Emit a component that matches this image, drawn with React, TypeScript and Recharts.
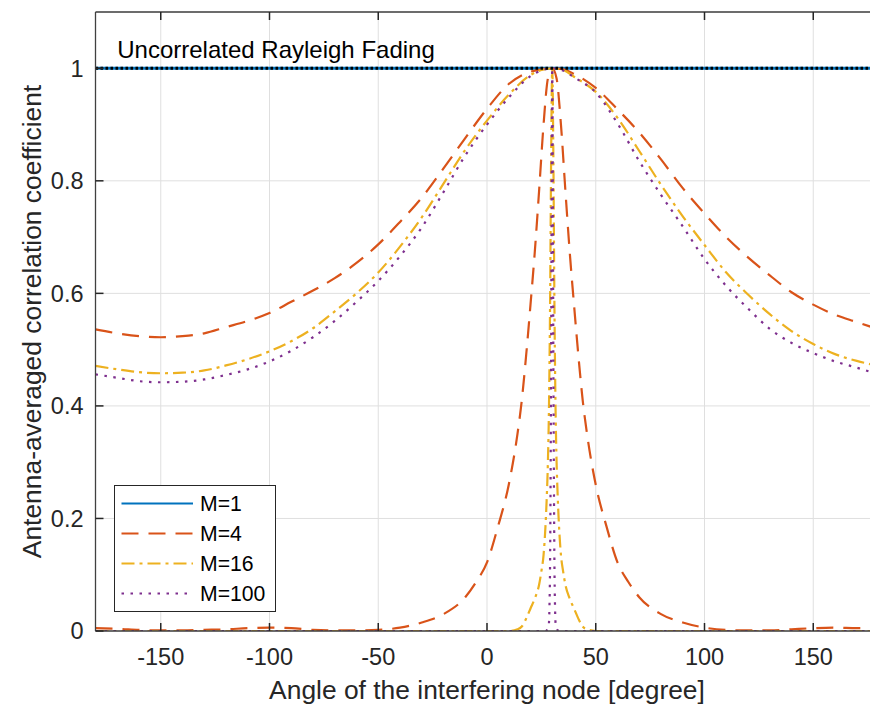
import React from 'react';
import {
  LineChart,
  Line,
  XAxis,
  YAxis,
  CartesianGrid,
  ReferenceLine,
  ReferenceDot,
  Legend,
} from 'recharts';

// ---------------- data ----------------
const xTicks = [-150, -100, -50, 0, 50, 100, 150];
const yTicks = [0, 0.2, 0.4, 0.6, 0.8, 1];
const yTickLabels = ['0', '0.2', '0.4', '0.6', '0.8', '1'];

const flatAngles = [-180, -90, 0, 90, 180];
const m1Values = [1, 1, 1, 1, 1];
const uncorrelatedValues = [1, 1, 1, 1, 1];

const broadAngles = [
  -180, -170, -160, -150, -140, -130, -120, -110, -100, -90, -80, -70, -60, -50,
  -40, -30, -20, -10, 0, 10, 20, 25, 30, 35, 40, 50, 60, 70, 80, 90, 100, 110,
  120, 130, 140, 150, 160, 170, 180,
];
const broadM4 = [
  0.536, 0.529, 0.524, 0.522, 0.524, 0.529, 0.54, 0.551, 0.565, 0.585, 0.605,
  0.627, 0.654, 0.687, 0.727, 0.77, 0.822, 0.876, 0.928, 0.972, 0.994, 0.998,
  1.0, 0.998, 0.99, 0.965, 0.927, 0.886, 0.838, 0.787, 0.742, 0.7, 0.664, 0.632,
  0.602, 0.58, 0.562, 0.549, 0.536,
];
const broadM16 = [
  0.471, 0.465, 0.46, 0.458, 0.459, 0.463, 0.472, 0.483, 0.497, 0.515, 0.538,
  0.568, 0.6, 0.637, 0.683, 0.735, 0.795, 0.855, 0.907, 0.953, 0.988, 0.997,
  1.0, 0.997, 0.985, 0.958, 0.912, 0.853, 0.793, 0.737, 0.686, 0.637, 0.598,
  0.563, 0.533, 0.51, 0.492, 0.48, 0.471,
];
const broadM100 = [
  0.456, 0.45, 0.444, 0.442, 0.443, 0.447, 0.455, 0.465, 0.479, 0.498, 0.522,
  0.551, 0.585, 0.622, 0.666, 0.717, 0.78, 0.845, 0.9, 0.948, 0.986, 0.996,
  1.0, 0.996, 0.984, 0.957, 0.902, 0.835, 0.775, 0.719, 0.661, 0.613, 0.573,
  0.537, 0.512, 0.494, 0.479, 0.468, 0.456,
];

const narrowM4Angles = [
  -180, -170, -160, -150, -140, -130, -120, -110, -100, -90, -80, -70, -60, -50,
  -40, -30, -20, -10, -5, 0, 5, 10, 14, 16, 18, 20, 22, 24, 26, 28, 30, 32, 34,
  36, 38, 40, 42, 44, 46, 50, 55, 60, 65, 70, 80, 90, 100, 110, 120, 130, 140,
  150, 160, 170, 180,
];
const narrowM4 = [
  0.005, 0.004, 0.002, 0.001, 0.001, 0.002, 0.003, 0.005, 0.006, 0.005, 0.002,
  0.001, 0.001, 0.002, 0.006, 0.015, 0.03, 0.06, 0.087, 0.122, 0.185, 0.26,
  0.35, 0.41, 0.49, 0.58, 0.675, 0.785, 0.9, 0.982, 1.0, 0.982, 0.9, 0.785,
  0.675, 0.58, 0.49, 0.41, 0.35, 0.26, 0.185, 0.122, 0.087, 0.06, 0.03, 0.015,
  0.006, 0.002, 0.001, 0.001, 0.003, 0.005, 0.006, 0.005, 0.005,
];

const narrowM16Angles = [
  -180, -90, 0, 10, 14, 16, 18, 20, 22, 24, 25, 26, 27, 27.5, 28, 28.5, 29,
  29.5, 30, 30.5, 31, 31.5, 32, 32.5, 33, 34, 35, 36, 38, 40, 42, 44, 46, 50,
  90, 180,
];
const narrowM16 = [
  0, 0, 0, 0, 0.003, 0.008, 0.022, 0.04, 0.058, 0.083, 0.106, 0.135, 0.195,
  0.24, 0.3, 0.4, 0.58, 0.85, 1.0, 0.85, 0.58, 0.4, 0.3, 0.24, 0.195, 0.135,
  0.106, 0.083, 0.058, 0.04, 0.022, 0.008, 0.003, 0, 0, 0,
];

const narrowM100Angles = [
  -180, -90, 0, 20, 27, 28, 28.4, 28.7, 29, 29.3, 29.5, 29.7, 30, 30.3, 30.5,
  30.7, 31, 31.3, 31.6, 32, 33, 40, 90, 180,
];
const narrowM100 = [
  0, 0, 0, 0, 0, 0.005, 0.01, 0.04, 0.12, 0.32, 0.5, 0.75, 1.0, 0.75, 0.5,
  0.32, 0.12, 0.04, 0.01, 0.005, 0, 0, 0, 0,
];

const legendNames = ['M=1', 'M=4', 'M=16', 'M=100'];
const xLabel = 'Angle of the interfering node [degree]';
const yLabel = 'Antenna-averaged correlation coefficient';
const annotation = 'Uncorrelated Rayleigh Fading';

// ---------------- styles ----------------
const FONT = '"Liberation Sans", Arial, Helvetica, sans-serif';
const TEXT_COLOR = '#262626';
const AXIS_COLOR = '#262626';
const GRID_COLOR = '#dfdfdf';

const STYLES = [
  { color: '#0072BD', dash: undefined as string | undefined },
  { color: '#D95319', dash: '17 10' },
  { color: '#EDB120', dash: '13 5 3 5' },
  { color: '#7E2F8E', dash: '2.5 6.5' },
];

const CHART_W = 890;
const CHART_H = 706;
const MARGIN = { top: 12, right: 11.5, bottom: 0, left: 15.5 };
const Y_AXIS_W = 80;
const X_AXIS_H = 75;
const PLOT_TOP = MARGIN.top;
const TICK_LEN = 8;
const X_TICK_GAP = 17;
const Y_TICK_GAP = 12;
const TICK_FONT = 23.5;
const LABEL_FONT = 26.4;
const LEGEND_FONT = 21.2;
const LINE_W = 2.2;

const zip = (xs: number[], ys: number[]) =>
  xs.map((x, i) => ({ angle: x, value: ys[i] }));

const XTick = (props: any) => {
  const { x, y, payload } = props;
  const axisY = y - X_TICK_GAP;
  return (
    <g>
      <line x1={x} x2={x} y1={axisY} y2={axisY - TICK_LEN} stroke={AXIS_COLOR} strokeWidth={1.5} />
      <line x1={x} x2={x} y1={PLOT_TOP} y2={PLOT_TOP + TICK_LEN} stroke={AXIS_COLOR} strokeWidth={1.5} />
      <text
        x={x}
        y={y}
        dy="0.71em"
        textAnchor="middle"
        fontSize={TICK_FONT}
        fontFamily={FONT}
        fill={TEXT_COLOR}
      >
        {String(payload.value)}
      </text>
    </g>
  );
};

const YTick = (props: any) => {
  const { x, y, payload } = props;
  const axisX = x + Y_TICK_GAP;
  const idx = yTicks.indexOf(payload.value);
  return (
    <g>
      <line x1={axisX} x2={axisX + TICK_LEN} y1={y} y2={y} stroke={AXIS_COLOR} strokeWidth={1.5} />
      <text
        x={x}
        y={y}
        dy="0.355em"
        textAnchor="end"
        fontSize={TICK_FONT}
        fontFamily={FONT}
        fill={TEXT_COLOR}
      >
        {idx >= 0 ? yTickLabels[idx] : String(payload.value)}
      </text>
    </g>
  );
};

const LegendBox = () => (
  <svg width={162} height={127} style={{ display: 'block' }}>
    <rect x={0.5} y={0.5} width={161} height={126} fill="#ffffff" stroke={AXIS_COLOR} strokeWidth={1} />
    {legendNames.map((name, i) => {
      const cy = 18.5 + i * 30;
      return (
        <g key={name}>
          <line
            x1={7.5}
            x2={79}
            y1={cy}
            y2={cy}
            stroke={STYLES[i].color}
            strokeWidth={LINE_W}
            strokeDasharray={STYLES[i].dash}
          />
          <text
            x={86}
            y={cy}
            dy="0.355em"
            fontSize={LEGEND_FONT}
            fontFamily={FONT}
            fill="#000000"
          >
            {name}
          </text>
        </g>
      );
    })}
  </svg>
);

const AnnotationShape = (props: any) => {
  const { cx, cy } = props;
  return (
    <text x={cx} y={cy} dy="0.355em" fontSize={24} fontFamily={FONT} fill="#000000">
      {annotation}
    </text>
  );
};

export default function App() {
  const lineCommon = {
    dataKey: 'value',
    dot: false,
    activeDot: false,
    isAnimationActive: false,
    type: 'monotone' as const,
    strokeWidth: LINE_W,
  };
  return (
    <div
      style={{
        position: 'absolute',
        left: 0,
        top: 0,
        width: 870,
        height: 706,
        overflow: 'hidden',
        background: '#ffffff',
      }}
    >
      <LineChart width={CHART_W} height={CHART_H} margin={MARGIN} style={{ fontFamily: FONT }}>
        <CartesianGrid stroke={GRID_COLOR} strokeWidth={1} />
        <XAxis
          dataKey="angle"
          type="number"
          domain={[-180, 180]}
          ticks={xTicks}
          interval={0}
          tickSize={0}
          tickMargin={X_TICK_GAP}
          tickLine={false}
          height={X_AXIS_H}
          axisLine={{ stroke: '#404040', strokeWidth: 1.3 }}
          tick={XTick}
          allowDataOverflow
          label={{
            value: xLabel,
            content: (p: any) => {
              const vb = p.viewBox || {};
              return (
                <text
                  x={vb.x + vb.width / 2}
                  y={vb.y + 68}
                  textAnchor="middle"
                  fontSize={LABEL_FONT}
                  fontFamily={FONT}
                  fill={TEXT_COLOR}
                >
                  {xLabel}
                </text>
              );
            },
          }}
        />
        <YAxis
          type="number"
          domain={[0, 1.1]}
          ticks={yTicks}
          interval={0}
          tickSize={0}
          tickMargin={Y_TICK_GAP}
          tickLine={false}
          width={Y_AXIS_W}
          axisLine={{ stroke: '#404040', strokeWidth: 1.3 }}
          tick={YTick}
          allowDataOverflow
          label={{
            value: yLabel,
            content: (p: any) => {
              const vb = p.viewBox || {};
              const cx = 41;
              const cy = vb.y + vb.height / 2;
              return (
                <text
                  x={cx}
                  y={cy}
                  transform={`rotate(-90, ${cx}, ${cy})`}
                  textAnchor="middle"
                  fontSize={LABEL_FONT}
                  fontFamily={FONT}
                  fill={TEXT_COLOR}
                >
                  {yLabel}
                </text>
              );
            },
          }}
        />
        <ReferenceLine y={1.1} stroke="#404040" strokeWidth={1.3} />
        <ReferenceLine x={180} stroke="#404040" strokeWidth={1.3} />

        <Line {...lineCommon} name="M=1" data={zip(flatAngles, m1Values)} stroke={STYLES[0].color} strokeWidth={2.8} />
        <Line {...lineCommon} name="M=4" data={zip(broadAngles, broadM4)} stroke={STYLES[1].color} strokeDasharray={STYLES[1].dash} />
        <Line {...lineCommon} name="M=16" data={zip(broadAngles, broadM16)} stroke={STYLES[2].color} strokeDasharray={STYLES[2].dash} />
        <Line {...lineCommon} name="M=100" data={zip(broadAngles, broadM100)} stroke={STYLES[3].color} strokeDasharray={STYLES[3].dash} />
        <Line {...lineCommon} name="M=4 (narrow)" legendType="none" data={zip(narrowM4Angles, narrowM4)} stroke={STYLES[1].color} strokeDasharray={STYLES[1].dash} />
        <Line {...lineCommon} name="M=16 (narrow)" legendType="none" data={zip(narrowM16Angles, narrowM16)} stroke={STYLES[2].color} strokeDasharray={STYLES[2].dash} />
        <Line {...lineCommon} name="M=100 (narrow)" legendType="none" data={zip(narrowM100Angles, narrowM100)} stroke={STYLES[3].color} strokeDasharray={STYLES[3].dash} />
        <Line {...lineCommon} name="Uncorrelated" legendType="none" data={zip(flatAngles, uncorrelatedValues)} stroke="#000000" strokeWidth={2.8} strokeDasharray="2.6 2.4" />

        <ReferenceDot x={-170} y={1.033} r={0} shape={AnnotationShape} />

        <Legend
          layout="vertical"
          align="center"
          verticalAlign="middle"
          content={() => <LegendBox />}
          wrapperStyle={{ left: 114, top: 485, width: 162, height: 127 }}
        />
      </LineChart>
    </div>
  );
}
